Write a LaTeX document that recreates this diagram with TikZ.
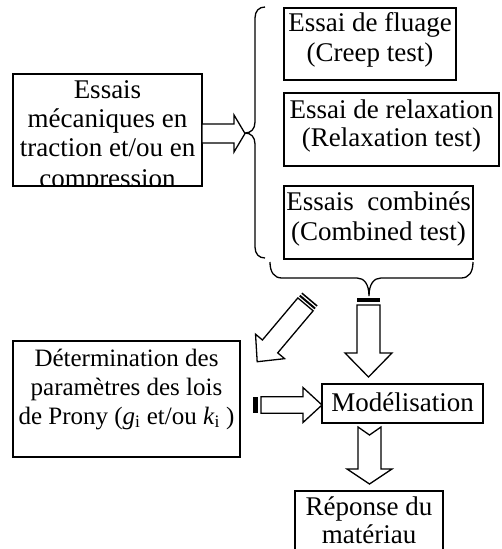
\documentclass[tikz,border=0pt]{standalone}
\usepackage{fontspec}
\setmainfont{Liberation Serif}
\begin{document}
\begin{tikzpicture}[x=1pt,y=-1pt,
  box/.style={draw, line width=1.3pt, rectangle, inner sep=0pt},
  txt/.style={inner sep=0pt, anchor=base, font=\fontsize{27}{29}\selectfont},
  txts/.style={inner sep=0pt, anchor=base, font=\fontsize{25}{29}\selectfont},
  blk/.style={draw, line width=1.3pt, fill=white, line join=miter},
  brace/.style={draw, line width=1.3pt},
  stripe/.style={fill=black}
]
\useasboundingbox (0,0) rectangle (502,549);
\clip (0,0) rectangle (502,549);

% box A: mechanical tests
\begin{scope}
  \clip (13,74) rectangle (202,186);
  \node[txt] (mech1) at (107.5,98) {Essais};
  \node[txt] (mech2) at (107.5,127) {mécaniques en};
  \node[txt] (mech3) at (107.5,156) {traction et/ou en};
  \node[txt] (mech4) at (107.5,187) {compression};
\end{scope}
\node[box, minimum width=189, minimum height=112] (mech) at (107.5,130) {};

% test boxes
\node[box, minimum width=172, minimum height=72] (creep) at (370,44) {};
\node[txt] (creep1) at (370,31) {Essai de fluage};
\node[txt] (creep2) at (370,61) {(Creep test)};

\node[box, minimum width=215, minimum height=73] (relax) at (391.5,129.5) {};
\node[txt] (relax1) at (391.5,118) {Essai de relaxation};
\node[txt] (relax2) at (391.5,146) {(Relaxation test)};

\node[box, minimum width=189, minimum height=73] (comb) at (378.5,222.5) {};
\node[txt] (comb1) at (378.5,210) {Essais~\ combinés};
\node[txt] (comb2) at (378.5,240) {(Combined test)};

% Prony box
\node[box, minimum width=227, minimum height=116] (prony) at (126.5,399) {};
\node[txts] (prony1) at (126.5,366) {Détermination des};
\node[txts] (prony2) at (126.5,395) {paramètres des lois};
\node[txts] (prony3) at (126.5,424) {de Prony (\textit{g}\textsubscript{i} et/ou \textit{k}\textsubscript{i} )};

% Modelisation
\node[box, minimum width=161, minimum height=39] (model) at (402.5,403.5) {};
\node[txt] (model1) at (402.5,411) {Modélisation};

% Response
\node[box, minimum width=148, minimum height=79] (resp) at (369,530.5) {};
\node[txt] (resp1) at (369,515) {Réponse du};
\node[txt] (resp2) at (369,543) {matériau};

% left brace
\draw[brace] (265,7) .. controls (259,7) and (255,11) .. (255,18) -- (255,122)
  .. controls (255,129) and (251,133) .. (245,133)
  .. controls (251,133) and (255,137) .. (255,144) -- (255,247)
  .. controls (255,254) and (259,258) .. (265,258);

% bottom brace
\draw[brace] (270,262) .. controls (270,272) and (274,278) .. (282,278) -- (357,278)
  .. controls (364,278) and (369,284) .. (369,296)
  .. controls (369,284) and (374,278) .. (381,278) -- (461,278)
  .. controls (469,278) and (473,272) .. (473,262);

% arrow: mech -> brace
\begin{scope}[shift={(202,133.5)}]
  \draw[blk] (0,-9.5) -- (32,-9.5) -- (32,-18.5) -- (43,0) -- (32,18.5) -- (32,9.5) -- (0,9.5) -- cycle;
\end{scope}

% arrow: brace -> modelisation (striped, down)
\begin{scope}[shift={(368.5,305)}, rotate=-90]
  \fill[stripe] (-7,-11.5) rectangle (-3,11.5);
  \draw[blk] (0,-11.5) -- (48,-11.5) -- (48,-23.5) -- (72,0) -- (48,23.5) -- (48,11.5) -- (0,11.5) -- cycle;
\end{scope}

% arrow: brace -> prony (striped, diagonal)
\begin{scope}[shift={(310,299)}, rotate=-130.1]
  \fill[stripe] (0,-10) rectangle (1.5,10);
  \fill[stripe] (3,-10) rectangle (5,10);
  \draw[blk] (7,-10) -- (62,-10) -- (62,-19) -- (82,0) -- (62,19) -- (62,10) -- (7,10) -- cycle;
\end{scope}

% arrow: prony -> modelisation (striped)
\begin{scope}[shift={(261,405)}]
  \fill[stripe] (-8,-8.3) rectangle (-3,8.3);
  \draw[blk] (0,-8.3) -- (42,-8.3) -- (42,-17.5) -- (61,0) -- (42,17.5) -- (42,8.3) -- (0,8.3) -- cycle;
\end{scope}

% arrow: modelisation -> response (notched)
\begin{scope}[shift={(369.5,427)}, rotate=-90]
  \draw[blk] (0,-11.5) -- (42,-11.5) -- (42,-22.5) -- (57,0) -- (42,22.5) -- (42,11.5) -- (0,11.5) -- (8,0) -- cycle;
\end{scope}
\end{tikzpicture}
\end{document}
